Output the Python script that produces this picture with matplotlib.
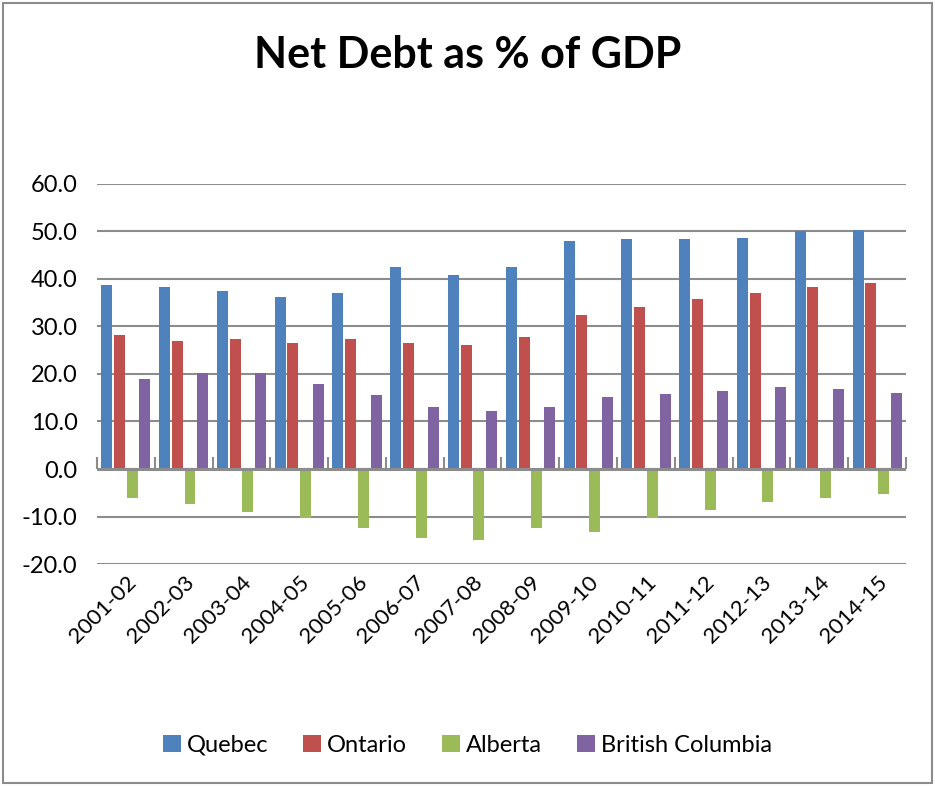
import numpy as np
import matplotlib
matplotlib.use('Agg')
import matplotlib.pyplot as plt
from matplotlib.ticker import FormatStrFormatter, FixedLocator, NullFormatter
from matplotlib.patches import Rectangle

plt.rcParams['font.family'] = ['Lato', 'DejaVu Sans']
plt.rcParams['axes.unicode_minus'] = False

years = ['2001-02', '2002-03', '2003-04', '2004-05', '2005-06', '2006-07', '2007-08',
         '2008-09', '2009-10', '2010-11', '2011-12', '2012-13', '2013-14', '2014-15']
quebec = [38.7, 38.3, 37.5, 36.2, 37.0, 42.5, 40.8, 42.5, 47.9, 48.4, 48.4, 48.7, 50.1, 50.4]
ontario = [28.3, 27.0, 27.3, 26.6, 27.3, 26.6, 26.2, 27.8, 32.4, 34.1, 35.8, 37.0, 38.3, 39.1]
alberta = [-6.1, -7.3, -9.0, -10.3, -12.4, -14.5, -14.9, -12.4, -13.2, -10.3, -8.6, -6.9, -6.1, -5.2]
bc = [19.0, 20.3, 20.3, 17.8, 15.6, 13.1, 12.3, 13.1, 15.2, 15.7, 16.5, 17.3, 16.9, 16.1]

series = [('Quebec', quebec, '#4F81BD'),
          ('Ontario', ontario, '#C0504D'),
          ('Alberta', alberta, '#9BBB59'),
          ('British Columbia', bc, '#8064A2')]

fig = plt.figure(figsize=(9.35, 7.86), dpi=100)
ax = fig.add_axes([0.1037, 0.2824, 0.8653, 0.4836])

x = np.arange(len(years))
width = 0.19
step = 0.22
for i, (name, vals, color) in enumerate(series):
    ax.bar(x + (i - 1.5) * step, vals, width, color=color, label=name, zorder=3)

ax.set_ylim(-20, 60)
ax.set_xlim(-0.5, len(years) - 0.5)
ax.set_yticks(np.arange(-20, 61, 10))
ax.yaxis.set_major_formatter(FormatStrFormatter('%.1f'))
ax.grid(axis='y', color='#8c8c8c', linewidth=1.5, zorder=0)
ax.axhline(0, color='#8c8c8c', linewidth=2.2, zorder=4)
for s in ax.spines.values():
    s.set_visible(False)
ax.tick_params(axis='y', length=0, labelsize=17, pad=14)
ax.set_xticks(x)
ax.set_xticklabels(years, rotation=45, ha='right', rotation_mode='anchor', fontsize=16)
ax.tick_params(axis='x', length=0, pad=6)

# category boundary tick marks on the zero line
sec = ax.secondary_xaxis(0.25)
sec.spines['bottom'].set_visible(False)
sec.xaxis.set_major_locator(FixedLocator(np.arange(-0.5, len(years), 1.0)))
sec.xaxis.set_major_formatter(NullFormatter())
sec.tick_params(axis='x', direction='in', length=9, width=1.5, color='#8c8c8c')

fig.text(0.5, 0.93, 'Net Debt as % of GDP', ha='center', va='center',
         fontsize=31, fontweight='bold')

fig.legend(loc='center', bbox_to_anchor=(0.5, 0.052), ncol=4, frameon=False,
           fontsize=17, handlelength=0.75, handleheight=0.75, handletextpad=0.25,
           columnspacing=1.5)

fig.patches.append(Rectangle((0.003, 0.004), 0.994, 0.992, transform=fig.transFigure,
                             fill=False, edgecolor='#8c8c8c', linewidth=1.5))

fig.savefig('out.png', dpi=100)
